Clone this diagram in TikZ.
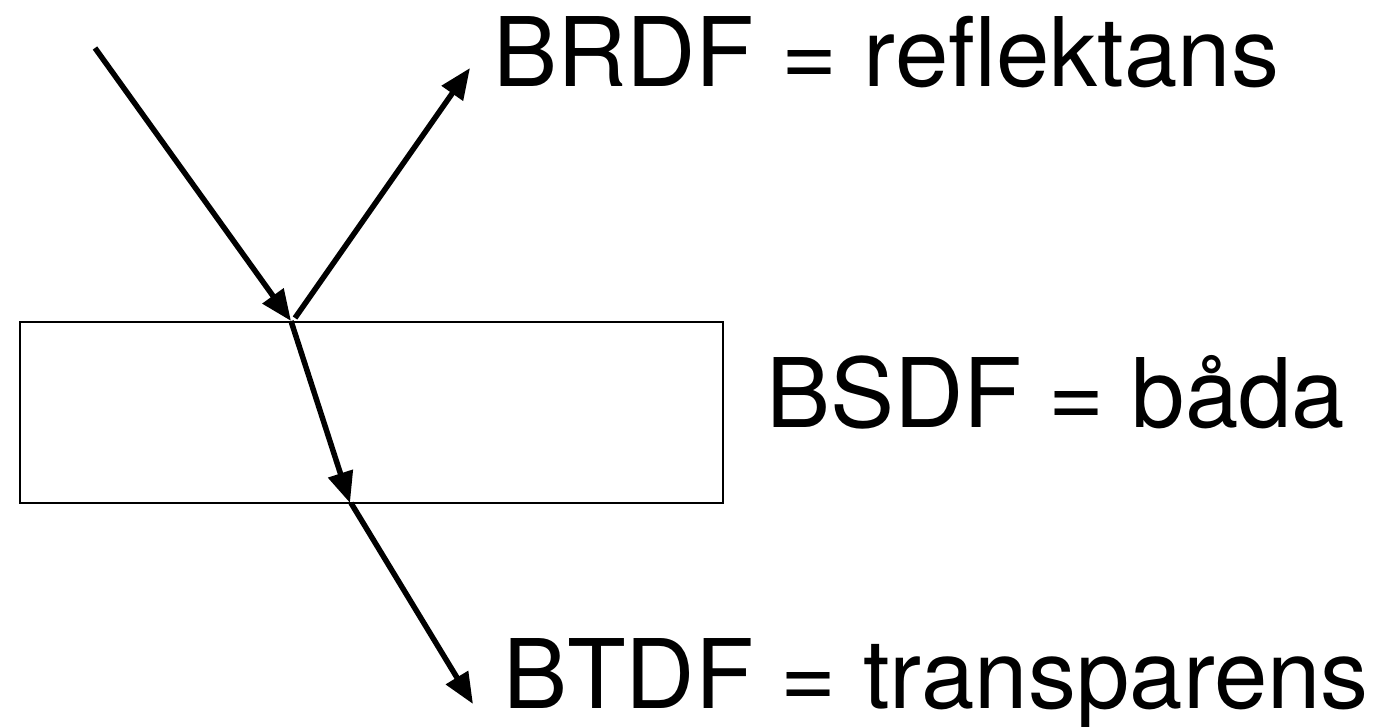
\documentclass[tikz,border=0pt]{standalone}
\usepackage{fontspec}
\setmainfont{TeX Gyre Heros}
\usetikzlibrary{arrows.meta, positioning}
\tikzset{
  ray/.style={line width=5.5pt, -{Triangle[length=31pt, width=25pt]}},
  label/.style={anchor=base west, inner sep=0pt, font=\fontsize{96}{100}\selectfont}
}

\begin{document}
\begin{tikzpicture}[x=1pt, y=-1pt]
        \useasboundingbox (0,0) rectangle (1379,727);
        % Slab
        \node[draw, line width=2.5pt, minimum width=703pt, minimum height=181pt, inner sep=0pt] (slab) at (371.5,412.5) {};
        \coordinate (src) at (95,48);
        \coordinate (hit) at (291,321);
        \coordinate (refl) at (295,318);
        \coordinate (exit) at (350,503);
        \coordinate (out) at (351,503);

        % Labels
        \node[label] (brdf) at (493,87) {BRDF = reflektans};
        \node[label] (bsdf) at (766,427) {BSDF = båda};
        \node[label] (btdf) at (503,708) {BTDF = transparens};

        % Rays
        \draw[ray] (src) -- (hit);
        \draw[ray] (refl) -- (470,68) coordinate (up);
        \draw[ray] (hit) -- (exit);
        \draw[ray] (out) -- (473,704) coordinate (down);
\end{tikzpicture}
\end{document}
